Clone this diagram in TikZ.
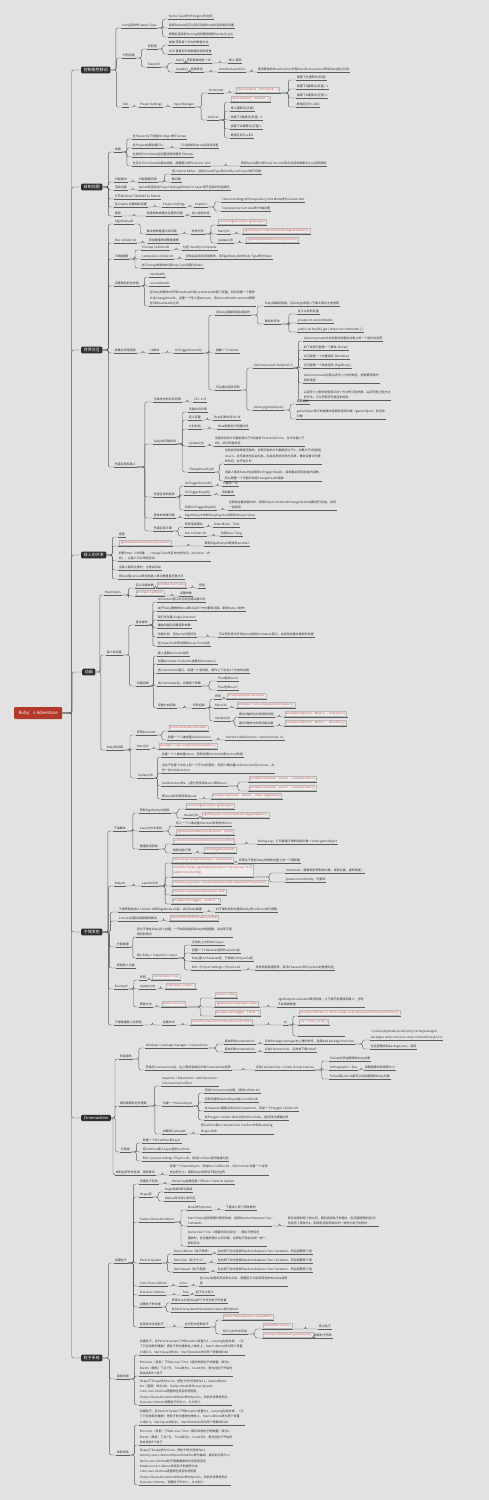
\documentclass[tikz,border=0pt]{standalone}
\usepackage{fontspec}
\setmainfont{Noto Sans CJK SC}
\usetikzlibrary{calc}
\definecolor{bgc}{HTML}{E2E2E2}
\definecolor{lnc}{HTML}{5C5C5C}
\definecolor{txc}{HTML}{333333}
\definecolor{cdred}{HTML}{D2524A}
\definecolor{cdframe}{HTML}{B8B8B8}
\definecolor{cdfill}{HTML}{ECECEC}
\definecolor{brc}{HTML}{2F2F2F}
\definecolor{rtc}{HTML}{B3392B}
\newcommand\Cd[1]{{\setlength{\fboxsep}{0.5pt}\setlength{\fboxrule}{0.3pt}\fcolorbox{cdframe}{cdfill}{\textcolor{cdred}{#1}}}}
\newcommand\Cdd[2]{{\setlength{\fboxsep}{0.5pt}\setlength{\fboxrule}{0.3pt}\fcolorbox{cdframe}{cdfill}{\begin{tabular}{@{}l@{}}\textcolor{cdred}{#1}\\\textcolor{cdred}{#2}\end{tabular}}}}
\newcommand\TopN[4]{\node[tx] (#1) at (#2,#3) {#4};}
\newcommand\CodeN[4]{\node[tx] (#1) at (#2,#3) {\Cd{#4}};}
\newcommand\Con[2]{\draw[cn] let \p1=(#1.south east),\p2=(#2.south west) in (\p1) -- ({(\x1+\x2)/2},\y1) |- (\p2);}
\newcommand\Cons[2]{\foreach \cx in {#2}{\Con{#1}{\cx}}}
\newcommand\BCons[2]{\foreach \cx in {#2}{\draw[cn] let \p1=(#1.east),\p2=(\cx.south west) in (\p1) -- ({(\x1+\x2)/2},\y1) |- (\p2);}}
\tikzset{
 ul/.style={draw=lnc,line width=0.4pt},
 tx/.style={anchor=south west,inner xsep=0.7pt,inner ysep=0.8pt,align=left,text=txc,font=\fontsize{3}{5.4}\selectfont,
   append after command={(\tikzlastnode.south west) edge[ul] (\tikzlastnode.south east)}},
 cn/.style={draw=lnc,line width=0.4pt,rounded corners=2pt},
 br/.style={anchor=west,fill=brc,text=white,rounded corners=1.2pt,inner xsep=2.6pt,inner ysep=1.6pt,font=\fontsize{4}{4.8}\selectfont},
 rt/.style={anchor=west,fill=rtc,text=white,rounded corners=1pt,minimum width=48pt,minimum height=12pt,inner sep=0pt,font=\fontsize{4.4}{5}\selectfont}
}
\begin{document}
\begin{tikzpicture}[x=1pt,y=-1pt]
\useasboundingbox (0,0) rectangle (489,1500);
\fill[bgc] (0,0) rectangle (489,1500);
% root and branches
\node[rt] (root) at (14,713) {Ruby's Adventure};
\node[br] (b1) at (81,70) {控制角色移动};
\node[br] (b2) at (81,187) {绘制地图};
\node[br] (b3) at (81,350) {世界交互};
\node[br] (b4) at (81,555) {敌人的开发};
\node[br] (b5) at (82,672) {动画};
\node[br] (b6) at (81,932) {子弹发射};
\node[br] (b7) at (81,1118) {Cinemachine};
\node[br] (b8) at (81,1358) {粒子系统};
\foreach \cx in {b1,b2,b3,b4,b5,b6,b7,b8}{\draw[cn] let \p1=(root.east),\p2=(\cx.west) in (\p1) -- ({(\x1+\x2)/2},\y1) |- (\p2);}
% ---- b1
\TopN{a1}{121}{28}{Unity选择的Feature Type}
\TopN{a11}{168}{19}{Sprite Type改为Polygon(多边形)}
\TopN{a12}{168}{28}{选择Default后可以显示选择Body的渲染顺序设置}
\TopN{a13}{168}{37}{按键后渲染的Sorting选择图层顺序Sprite(Y)  y(X)}
\TopN{a2}{122}{58}{代码控制}
\TopN{a21}{147}{49}{获取值}
\TopN{a211}{168}{45}{单独 获取每个方向的数值方法}
\TopN{a212}{168}{54}{水平 垂直和平滑数值的控制设置}
\TopN{a22}{147}{67}{RubyCtrl}
\TopN{a221}{175}{63}{Start()}
\TopN{a2211}{186}{63}{获取刚体组件一次}
\TopN{a2212}{228}{63}{放入 缓存}
\TopN{a222}{175}{72}{Update()}
\TopN{a2221}{190}{72}{刚体移动}
\TopN{a2222}{218}{72}{transform.position}
\TopN{a2223}{257}{72}{使用刚体的MovePosition代替transform.position移动Ruby防止抖动}
\TopN{a3}{122}{107}{Edit}
\TopN{a31}{139}{107}{Project Settings}
\TopN{a32}{173}{107}{Input Manager}
\TopN{a321}{208}{93}{Horizontal}
\CodeN{a3211}{235}{93}{Input.GetAxis("Horizontal");}
\TopN{a32111}{296}{80}{按键下左键移动(负值)}
\TopN{a32112}{296}{89}{按键下A键移动(负值) -1}
\TopN{a32113}{296}{98}{按键下D键移动(正值) 1}
\TopN{a32114}{296}{107}{数值区间为-1到1}
\TopN{a322}{207}{120}{Vertical}
\CodeN{a3221}{230}{102}{Input.GetAxis("Vertical");}
\TopN{a3222}{230}{111}{按上键移动(正值)}
\TopN{a3223}{230}{120}{按键下S键移动(负值) -1}
\TopN{a3224}{230}{129}{按键下W键移动(正值) 1}
\TopN{a3225}{230}{138}{数值区间为-1到1}
\BCons{b1}{a1,a2,a3}
\Cons{a1}{a11,a12,a13}\Cons{a2}{a21,a22}\Cons{a21}{a211,a212}\Cons{a22}{a221,a222}
\Con{a221}{a2211}\Con{a2211}{a2212}\Con{a222}{a2221}\Con{a2221}{a2222}\Con{a2222}{a2223}
\Con{a3}{a31}\Con{a31}{a32}\Cons{a32}{a321,a322}\Con{a321}{a3211}
\Cons{a3211}{a32111,a32112,a32113,a32114}\Cons{a322}{a3221,a3222,a3223,a3224,a3225}
% ---- b2
\TopN{c1}{114}{152}{地图}
\TopN{c11}{132}{139}{在Hierarchy下创建2D Object的Tilemap}
\TopN{c12}{132}{148}{在Project右键创建Tile}
\TopN{c121}{180}{148}{Tile拖拽到Sprite后自动设置}
\TopN{c13}{132}{157}{在弹出Tile Palette后设置选取放置的Tilemap}
\TopN{c14}{132}{166}{在瓦片Tile Palette中画出地图，调整图片的Pixels Per Unit}
\TopN{c141}{240}{166}{再把Sprite图片的Pixels Per Unit改为合适的像素大小以适配网格}
\TopN{c2}{114}{182}{切割素材}
\TopN{c21}{138}{182}{切割图集资源}
\TopN{c22}{171}{174}{进入Sprite Editor，选择Slice中Type改Grid By Cell Count进行切割}
\TopN{c23}{171}{182}{裁切图}
\TopN{c3}{114}{190}{渲染设置}
\TopN{c31}{138}{190}{Sprite的渲染在Project Setting中Order in Layer调节渲染的先后顺序}
\TopN{c4}{114}{199}{打开Window下的2D中Tile Palette}
\TopN{c5}{114}{207}{在Graphic设置相机设置}
\TopN{c51}{162}{207}{Project Settings}
\TopN{c52}{194}{207}{Graphics}
\TopN{c521}{221}{202}{Camera Settings中Transparency Sort Mode改为Custom Axis}
\TopN{c522}{221}{211}{Transparency Sort Axis改为Y轴设置}
\TopN{c6}{114}{216}{图层}
\TopN{c61}{146}{216}{前景物体放置在后面的问题}
\TopN{c62}{191}{216}{加入遮挡关系}
\BCons{b2}{c1,c2,c3,c4,c5,c6}
\Cons{c1}{c11,c12,c13,c14}\Con{c12}{c121}\Con{c14}{c141}
\Con{c2}{c21}\Cons{c21}{c22,c23}\Con{c3}{c31}\Con{c5}{c51}\Con{c51}{c52}\Cons{c52}{c521,c522}
\Con{c6}{c61}\Con{c61}{c62}
% ---- b3
\TopN{d1}{114}{224}{Rigidbody 2D}
\TopN{d11}{146}{234}{解决物体碰撞抖动问题}
\TopN{d111}{191}{234}{修改代码}
\CodeN{d1111}{217}{225}{private Rigidbody2D rigidbody2d;}
\TopN{d1112}{217}{234}{Start()中}
\CodeN{d1112a}{242}{234}{rigidbody2d = GetComponent<Rigidbody2D>();}
\TopN{d1113}{217}{243}{Update()中}
\CodeN{d1113a}{245}{243}{rigidbody2d.MovePosition(position);}
\TopN{d2}{114}{243}{Box Collider 2D}
\TopN{d21}{148}{243}{添加碰撞体调整碰撞框}
\TopN{d3}{114}{259}{TM碰撞器}
\TopN{d31}{141}{250}{Tilemap Collider 2D}
\TopN{d311}{182}{250}{勾选 Used By Composite}
\TopN{d32}{141}{259}{Composite Collider 2D}
\TopN{d321}{185}{259}{添加后会自动添加刚体，将Rigidbody 2D的Body Type改为Static}
\TopN{d33}{141}{268}{在Tilemap的刚体中将Body Type设置为Static}
\TopN{d4}{114}{286}{设置角色的生命值}
\TopN{d41}{149}{277}{maxHealth}
\TopN{d42}{149}{286}{currentHealth}
\TopN{d43}{149}{306}{在Ruby的脚本中声明maxHealth和currentHealth两个变量，然后创建一个更改\\方法ChangeHealth，设置一个传入值amount，用currentHealth+amount限制\\在0到maxHealth之间}
\TopN{d5}{114}{353}{收集生命值道具}
\TopN{d51}{149}{353}{C\#脚本}
\TopN{d52}{174}{353}{OnTriggerEnter2D()}
\TopN{d531}{215}{315}{当Ruby接触到回血道具时}
\TopN{d53}{215}{353}{接触一个Collider}
\TopN{d54}{215}{390}{可以通过组件获取}
\TopN{d5311}{264}{306}{Ruby接触到道具，且Ruby生命值小于最大值时才能拾取}
\TopN{d5312}{264}{324}{属性的写法}
\TopN{d53121}{297}{314}{定义公有的变量}
\TopN{d53122}{297}{323}{private int currentHealth;}
\TopN{d53123}{297}{332}{public int health \{ get \{ return currentHealth; \} \}}
\TopN{d541}{253}{368}{GetComponent<RubyCtrl>()}
\TopN{d5411}{303}{341}{GetComponent方法会查找挂载在对象上的一个组件并返回}
\TopN{d5412}{303}{350}{如下返回可能是一个脚本 (Script)}
\TopN{d5413}{303}{359}{也可能是一个内置组件 (Renderer)}
\TopN{d5414}{303}{368}{也可能是一个刚体组件 (Rigidbody)}
\TopN{d5415}{303}{383}{GetComponent后面尖括号(<>)中的类型，就是要获取的\\组件类型}
\TopN{d5416}{303}{400}{尖括号(<>)里的类型表示这个方法的泛型参数，尖括号是泛型方法\\的写法，可以获取任何类型的组件}
\TopN{d542}{253}{410}{Destroy(gameObject)}
\TopN{d5421}{296}{404}{销毁道具}
\TopN{d5422}{296}{419}{gameObject表示的是脚本挂载的游戏对象（gameObject）的当前\\对象}
\TopN{d6}{114}{467}{伤害区域和敌人}
\TopN{d61}{153}{402}{无敌状态的时间间隔}
\TopN{d611}{193}{402}{CD = 2.0f}
\TopN{d62}{153}{444}{Ruby的无敌时间}
\TopN{d621}{188}{412}{无敌时间计算}
\TopN{d622}{188}{420}{定义变量}
\TopN{d6221}{213}{420}{float无敌时间为2.0f}
\TopN{d623}{188}{429}{计时时间}
\TopN{d6231}{217}{429}{float类型的计时器时间}
\TopN{d624}{188}{446}{Update()中}
\TopN{d6241}{214}{446}{无敌状态的计时器如果大于0则减去Time.deltaTime，当计时器小于\\0时，关闭无敌状态}
\TopN{d625}{188}{472}{ChangeHealth()中}
\TopN{d6251}{224}{464}{当前状态如果是无敌的，判断无敌的计时器是否大于0，如果大于0则直接\\return，出无敌状态后会扣血，扣血后把状态改为无敌，重新设置计时器\\的时间，并开始计时}
\TopN{d6252}{224}{481}{当敌人碰到Ruby时会调用OnTriggerStay2D，每帧都会调用扣血的函数，\\所以需要一个无敌时间给ChangeHealth函数}
\TopN{d63}{153}{497}{伤害区域的制作}
\TopN{d631}{184}{486}{OnTriggerEnter2D()}
\TopN{d6311}{222}{486}{只触发一次}
\TopN{d632}{184}{495}{OnTriggerStay2D()}
\TopN{d6321}{221}{495}{持续触发}
\TopN{d633}{184}{510}{持续OnTriggerStay2D()}
\TopN{d6331}{228}{510}{当刚体在触发器中时，调用RubyController中ChangeHealth函数进行扣血，持续\\一直调用}
\TopN{d64}{153}{518}{刚体的休眠问题}
\TopN{d641}{184}{518}{Rigidbody2D中的Sleeping Mode修改为Never Sleep}
\TopN{d65}{153}{531}{伤害区域平铺}
\TopN{d651}{184}{527}{修改渲染模式}
\TopN{d6511}{213}{527}{Draw Mode：Tiled}
\TopN{d652}{184}{536}{Box Collider 2D}
\TopN{d6521}{220}{536}{勾选Auto Tiling}
\BCons{b3}{d1,d2,d3,d4,d5,d6}
\Con{d1}{d11}\Con{d11}{d111}\Cons{d111}{d1111,d1112,d1113}\Con{d1112}{d1112a}\Con{d1113}{d1113a}
\Con{d2}{d21}\Cons{d3}{d31,d32,d33}\Con{d31}{d311}\Con{d32}{d321}
\Cons{d4}{d41,d42,d43}
\Con{d5}{d51}\Con{d51}{d52}\Cons{d52}{d531,d53,d54}
\Cons{d531}{d5311,d5312}\Cons{d5312}{d53121,d53122,d53123}
\Cons{d54}{d541,d542}\Cons{d541}{d5411,d5412,d5413,d5414,d5415,d5416}\Cons{d542}{d5421,d5422}
\Cons{d6}{d61,d62,d63,d64,d65}\Con{d61}{d611}
\Cons{d62}{d621,d622,d623,d624,d625}\Con{d622}{d6221}\Con{d623}{d6231}\Con{d624}{d6241}\Cons{d625}{d6251,d6252}
\Cons{d63}{d631,d632,d633}\Con{d631}{d6311}\Con{d632}{d6321}\Con{d633}{d6331}
\Con{d64}{d641}\Cons{d65}{d651,d652}\Con{d651}{d6511}\Con{d652}{d6521}
% ---- b4
\TopN{e1}{118}{537}{速度}
\CodeN{e2}{118}{546}{rigidbody2d.MovePosition(position);}
\TopN{e21}{204}{546}{刷新Rigidbody2D刚体的position}
\TopN{e3}{118}{561}{判断timer（计时器），changeTime改变方向的时间，direction（方\\向），让敌人可以来回走动}
\TopN{e4}{118}{570}{当敌人碰到主角时，主角会扣血}
\TopN{e5}{118}{579}{用bool值vertical来控制敌人移动是垂直还是水平}
\BCons{b4}{e1,e2,e3,e4,e5}\Con{e2}{e21}
% ---- b5
\TopN{f1}{104}{595}{Parameters}
\TopN{f11}{135}{588}{定义动画参数}
\CodeN{f111}{156}{588}{animator.SetFloat()}
\TopN{f112}{198}{588}{传值}
\CodeN{f12}{135}{596}{animator.SetBool()}
\TopN{f121}{179}{596}{设置参数}
\TopN{f2}{106}{655}{敌人的动画}
\TopN{f21}{135}{625}{基本操作}
\TopN{f211}{157}{602}{Animation窗口中点击创建动画片段}
\TopN{f212}{157}{611}{由于Ruby要做的Move和Idle四个方向都有动画，都在Ruby上制作}
\TopN{f213}{157}{620}{我们先创建 Single Direction}
\TopN{f214}{157}{628}{播放动画后调整每秒帧数}
\TopN{f215}{157}{637}{动画片段：用Sprite切割好后}
\TopN{f2151}{218}{637}{可以同时选中多张Sprite拖到Animation窗口，会自动创建关键帧的动画}
\TopN{f216}{157}{646}{在Inspector中把动画的Loop Time勾选}
\TopN{f22}{136}{686}{动画控制}
\TopN{f221}{157}{656}{敌人挂载Animator组件}
\TopN{f222}{157}{664}{创建Animator Controller挂载到Animator上}
\TopN{f223}{157}{673}{进入Animation窗口，创建一个混合树，制作上下左右4个方向的动画}
\TopN{f224}{157}{686}{进入Animator后，设置两个参数}
\TopN{f2241}{217}{681}{Float型Move X}
\TopN{f2242}{217}{690}{Float型Move Y}
\TopN{f225}{157}{708}{设置方向控制}
\TopN{f2251}{192}{708}{代码控制}
\TopN{f22511}{214}{699}{声明}
\CodeN{f22512}{226}{699}{private Animator animator;}
\TopN{f22513}{214}{708}{Start()中}
\CodeN{f22514}{236}{708}{animator = GetComponent<Animator>();}
\TopN{f22515}{214}{721}{Update()中}
\TopN{f225151}{238}{717}{通过X轴的方向来控制动画}
\CodeN{f225152}{284}{717}{animator.SetFloat("Move X", direction.x);}
\TopN{f225153}{238}{726}{通过Y轴的方向来控制动画}
\CodeN{f225154}{284}{726}{animator.SetFloat("Move Y", direction.y);}
\TopN{f3}{106}{750}{Ruby的动画}
\TopN{f31}{136}{735}{声明Animator}
\CodeN{f311}{168}{731}{private Animator animator;}
\TopN{f312}{167}{740}{创建一个二维向量lookDirection}
\TopN{f3121}{225}{740}{Vector2 lookDirection = new Vector2(1, 0);}
\TopN{f32}{136}{749}{Start()中}
\CodeN{f321}{158}{749}{animator = GetComponent<Animator>();}
\TopN{f33}{137}{778}{Update()中}
\TopN{f331}{161}{757}{创建一个二维向量move，用来存储Horizontal和Vertical的值}
\TopN{f332}{161}{773}{当位于在哪个方向上有一个不为0的值时，就把二维向量lookDirection存入move，并\\归一化lookDirection}
\TopN{f333}{161}{786}{lookDirection的x、y值分别传给Move X和Move Y}
\CodeN{f3331}{248}{782}{animator.SetFloat("Look X", lookDirection.x);}
\CodeN{f3332}{248}{791}{animator.SetFloat("Look Y", lookDirection.y);}
\TopN{f334}{161}{799}{把move的长度传给Speed}
\CodeN{f3341}{211}{799}{animator.SetFloat("Speed", move.magnitude);}
\BCons{b5}{f1,f2,f3}
\Cons{f1}{f11,f12}\Con{f11}{f111}\Con{f111}{f112}\Con{f12}{f121}
\Cons{f2}{f21,f22}\Cons{f21}{f211,f212,f213,f214,f215,f216}\Con{f215}{f2151}
\Cons{f22}{f221,f222,f223,f224,f225}\Cons{f224}{f2241,f2242}\Con{f225}{f2251}
\Cons{f2251}{f22511,f22513,f22515}\Con{f22511}{f22512}\Con{f22513}{f22514}
\Cons{f22515}{f225151,f225153}\Con{f225151}{f225152}\Con{f225153}{f225154}
\Cons{f3}{f31,f32,f33}\Cons{f31}{f311,f312}\Con{f312}{f3121}\Con{f32}{f321}
\Cons{f33}{f331,f332,f333,f334}\Cons{f333}{f3331,f3332}\Con{f334}{f3341}
% ---- b6
\TopN{g1}{113}{831}{子弹脚本}
\TopN{g11}{139}{813}{获取Rigidbody2D组件}
\CodeN{g111}{185}{809}{private Rigidbody2D rigidbody2d;}
\TopN{g112}{183}{818}{Awake()中}
\CodeN{g1121}{201}{818}{rigidbody2d = GetComponent<Rigidbody2D>();}
\TopN{g12}{139}{831}{Launch方法发射}
\TopN{g121}{175}{826}{传入一个二维向量direction和发射的force}
\CodeN{g122}{175}{835}{rigidbody2d.AddForce(direction * force);}
\TopN{g13}{139}{849}{碰撞检测销毁}
\CodeN{g131}{172}{844}{void OnCollisionEnter2D(Collision2D other)}
\TopN{g1311}{257}{844}{Debug.Log：打印碰撞子弹的游戏对象  + other.gameObject}
\TopN{g132}{172}{853}{销毁当前子弹}
\CodeN{g1321}{203}{853}{Destroy(gameObject);}
\TopN{g2}{114}{886}{Ruby中}
\TopN{g21}{141}{886}{Launch方法}
\CodeN{g22}{171}{863}{GameObject projectileObject = Instantiate(}
\TopN{g221}{238}{863}{实例化子弹在Ruby的刚体位置上加一个偏移量}
\TopN{g23}{171}{877}{\Cdd{projectilePrefab, rigidbody2d.position + Vector2.up * 0.5f,}{Quaternion.identity);}}
\TopN{g231}{285}{873}{Instantiate（需复制的预制体对象，复制位置，旋转角度）}
\TopN{g232}{285}{882}{Quaternion.identity：无旋转}
\CodeN{g24}{171}{886}{Projectile projectile = projectileObject.GetComponent<Projectile>();}
\CodeN{g25}{171}{895}{projectile.Launch(lookDirection, 300);}
\CodeN{g26}{171}{904}{animator.SetTrigger("Launch");}
\TopN{g3}{118}{912}{子弹预制体加入Collider 2D和Rigidbody 2D后，会与Ruby碰撞}
\TopN{g31}{215}{912}{对子弹的发射位置及Ruby的Collision进行调整}
\TopN{g4}{118}{921}{Console后面出现报错的解决}
\CodeN{g41}{169}{921}{Start()中的代码改为Awake()中获取}
\TopN{g5}{116}{947}{分层碰撞}
\TopN{g51}{136}{937}{因为子弹在Ruby身上创建，一开始就会碰到Ruby的碰撞器，会出现不能\\发射的情况}
\TopN{g52}{136}{958}{进入Ruby > Inspector > Layer}
\TopN{g521}{191}{945}{点击右上方的Add Layer}
\TopN{g522}{191}{953}{创建一个Character层和Projectile层}
\TopN{g523}{191}{961}{Ruby放入Character层，子弹放入Projectile层}
\TopN{g524}{191}{970}{Edit > Project Settings > Physics 2D}
\TopN{g5241}{255}{970}{修改层级碰撞矩阵，取消Character和Projectile的碰撞勾选}
\TopN{g6}{116}{968}{修复敌人功能}
\TopN{g7}{114}{989}{Enemy中}
\TopN{g71}{139}{980}{声明}
\CodeN{g711}{151}{980}{bool broken = true;}
\TopN{g72}{139}{989}{Update()中}
\CodeN{g721}{165}{989}{if(!broken) \{ return; \}}
\TopN{g73}{139}{1007}{修复方法}
\CodeN{g731}{161}{1007}{public void Fix()}
\CodeN{g7311}{214}{998}{broken = false;}
\CodeN{g7312}{214}{1007}{rigidbody2d.simulated = false;}
\TopN{g73121}{277}{1007}{rigidbody2d.simulated禁用刚体，让子弹不能再碰到敌人，也就\\不会再被碰撞}
\CodeN{g7313}{214}{1016}{animator.SetTrigger("Fixed");}
\TopN{g8}{114}{1025}{子弹碰撞敌人后修复}
\TopN{g81}{162}{1025}{在脚本中}
\CodeN{g82}{190}{1025}{void OnCollisionEnter2D(Collision2D other)}
\TopN{g83}{283}{1025}{内}
\CodeN{g831}{298}{1016}{EnemyController e = other.collider.GetComponent<EnemyController>();}
\CodeN{g832}{298}{1025}{if(e != null) \{ e.Fix(); \}}
\TopN{g833}{298}{1036}{\hspace*{45pt}}
\BCons{b6}{g1,g2,g3,g4,g5,g6,g7,g8}
\Cons{g1}{g11,g12,g13}\Cons{g11}{g111,g112}\Con{g112}{g1121}\Cons{g12}{g121,g122}
\Cons{g13}{g131,g132}\Con{g131}{g1311}\Con{g132}{g1321}
\Con{g2}{g21}\Cons{g21}{g22,g23,g24,g25,g26}\Con{g22}{g221}\Cons{g23}{g231,g232}
\Con{g3}{g31}\Con{g4}{g41}
\Cons{g5}{g51,g52}\Cons{g52}{g521,g522,g523,g524}\Con{g524}{g5241}
\Cons{g7}{g71,g72,g73}\Con{g71}{g711}\Con{g72}{g721}\Con{g73}{g731}
\Cons{g731}{g7311,g7312,g7313}\Con{g7312}{g73121}
\Con{g8}{g81}\Con{g81}{g82}\Con{g82}{g83}\Cons{g83}{g831,g832,g833}
% ---- b7
\TopN{h1}{119}{1059}{安装插件}
\TopN{h11}{145}{1048}{Windows > package manager > cinemachine}
\TopN{h111}{224}{1044}{版本新的cinemachine}
\TopN{h1111}{264}{1044}{点击Package manager左上角的加号，选择Add package from disk}
\TopN{h11111}{370}{1040}{C:\textbackslash Users\textbackslash AppData\textbackslash Local\textbackslash Unity\textbackslash cache\textbackslash packages\textbackslash \\packages.unity.com\textbackslash com.unity.cinemachine@2.3.4}
\TopN{h11112}{370}{1049}{在这里面找到package.json，选择}
\TopN{h112}{224}{1052}{版本旧的cinemachine}
\TopN{h1121}{264}{1052}{点击Cinemachine，点击右下角install}
\TopN{h12}{145}{1070}{安装完Cinemachine后，在上面的菜单栏中有Cinemachine选项}
\TopN{h121}{255}{1070}{点击Cinemachine > Create Virtual Camera}
\TopN{h1211}{329}{1061}{Follow中添加跟随的Ruby对象}
\TopN{h1212}{329}{1070}{Orthographic > Size}
\TopN{h12121}{364}{1070}{调整摄像机的视野大小}
\TopN{h1213}{329}{1079}{Follow和Look At都可以添加跟随的Ruby对象}
\TopN{h2}{119}{1106}{相机跟随的边界限制}
\TopN{h21}{161}{1086}{Inspector > Extensions > Add Extension >\\CinemachineConfiner}
\TopN{h22}{162}{1106}{创建一个GameObject}
\TopN{h221}{204}{1093}{添加Cinemachine边框，选择Collider 2D}
\TopN{h222}{204}{1102}{将新创建的GameObject拖入Confiner中}
\TopN{h223}{204}{1111}{在Inspector面板点击Add Component，添加一个Polygon Collider 2D}
\TopN{h224}{204}{1120}{在Polygon Collider 2D中点击Edit Collider，拖动顶点编辑边界}
\TopN{h23}{162}{1134}{加载到Camera中}
\TopN{h231}{200}{1134}{把Confiner放入Cinemachine Confiner中的Bounding\\Shape 2D中}
\TopN{h3}{120}{1152}{分层级}
\TopN{h31}{142}{1143}{新建一个叫Confiner的Layer}
\TopN{h32}{142}{1152}{将Confiner放入Layer层的Confiner}
\TopN{h33}{142}{1161}{Edit > project setting > Physics 2D，取消Confiner层的碰撞勾选}
\TopN{h4}{115}{1175}{相机边界外的区域：限制移动}
\TopN{h41}{169}{1175}{新建一个GameObject，添加Box Collider 2D，Edit Collider设置一个合适\\的边界大小，限制Ruby的移动不超过边界}
\BCons{b7}{h1,h2,h3,h4}
\Cons{h1}{h11,h12}\Cons{h11}{h111,h112}\Con{h111}{h1111}\Cons{h1111}{h11111,h11112}\Con{h112}{h1121}
\Con{h12}{h121}\Cons{h121}{h1211,h1212,h1213}\Con{h1212}{h12121}
\Cons{h2}{h21,h22,h23}\Cons{h22}{h221,h222,h223,h224}\Con{h23}{h231}
\Cons{h3}{h31,h32,h33}\Con{h4}{h41}
% ---- b8
\TopN{k1}{114}{1263}{创建粒子}
\TopN{k11}{139}{1184}{创建粒子系统}
\TopN{k111}{171}{1184}{Hierarchy右键创建 > Effects > Particle System}
\TopN{k12}{139}{1197}{Shape项}
\TopN{k121}{164}{1192}{Angle改成0即为直线}
\TopN{k122}{164}{1201}{Radius改为较小的半径}
\TopN{k13}{139}{1222}{Texture Sheet Animation}
\TopN{k131}{187}{1210}{Mode改为Sprites}
\TopN{k1311}{225}{1210}{下面加入两个特效素材}
\TopN{k132}{187}{1226}{Start Frame指的是图片精灵的帧，选择Random Between Two\\Constants}
\TopN{k1321}{287}{1226}{即在前面的两个帧之间，随机选择粒子的图片（在范围里随机显示）\\然后把上限改为2，即随机选取两帧中的一帧作为粒子的图片}
\TopN{k133}{187}{1246}{Sprite Over Time（随着时间在变化）：即粒子是否在\\播放时，在设置的图片之间切换，这样粒子就会出现一帧一\\帧的变化}
\TopN{k14}{139}{1263}{Particle System}
\TopN{k141}{173}{1254}{Start Lifetime（粒子寿命）}
\TopN{k1411}{217}{1254}{在右侧下拉中选择Random Between Two Constants，然后调整两个值}
\TopN{k142}{173}{1263}{Start Size（粒子大小）}
\TopN{k1421}{217}{1263}{在右侧下拉中选择Random Between Two Constants，然后调整两个值}
\TopN{k143}{173}{1272}{Start Speed（粒子速度）}
\TopN{k1431}{217}{1272}{在右侧下拉中选择Random Between Two Constants，然后调整两个值}
\TopN{k15}{139}{1286}{Color Over Lifetime}
\TopN{k151}{179}{1286}{color}
\TopN{k152}{199}{1286}{在Color右侧的渐变条中点击，调整粒子从出现到消失的alpha透明\\度}
\TopN{k16}{139}{1295}{Size Over Lifetime}
\TopN{k161}{182}{1295}{Size}
\TopN{k162}{195}{1295}{粒子从大到小}
\TopN{k17}{139}{1307}{设置粒子的位置}
\TopN{k171}{171}{1303}{修改Size为在Ruby的下方作为粒子的位置}
\TopN{k172}{171}{1312}{在Particle System中Simulation Space改为World}
\TopN{k18}{139}{1327}{在游戏中生成粒子}
\TopN{k181}{184}{1327}{在代码中控制粒子}
\CodeN{k1811}{222}{1320}{public ParticleSystem smokeEffect;}
\TopN{k1812}{222}{1334}{在Fix()方法中添加}
\CodeN{k18121}{262}{1329}{smokeEffect.Stop();}
\TopN{k181211}{318}{1329}{停止粒子}
\CodeN{k18122}{262}{1338}{Destroy(smokeEffect.gameObject);}
\TopN{k181221}{313}{1338}{销毁粒子特效}
\TopN{k2}{116}{1379}{道具特效}
\TopN{k21}{139}{1355}{创建粒子，在Particle System下的Duration设置为1，Looping勾选去掉，（为\\了只在拾取时播放）把粒子的位置放在人物身上，Start Lifetime改为两个常量\\0.5和1.5，Start Speed改为0，Start Rotation改为两个常数0和360}
\TopN{k22}{139}{1376}{Emission（发射）下Rate over Time（每秒发射粒子的数量）改为0，\\Bursts（爆发）下点+号，Time改为0，Count为5，意为在粒子开始时\\就会发射5个粒子}
\TopN{k23}{139}{1405}{Shape下Shape改为Circle，把粒子的半径改为0.1，Radius改为0，\\Arc（弧度）改为360，Radius Mode改为Loop Spread，\\Color over Lifetime调整颜色渐变的透明度，\\Texture Sheet Animation中Mode改为Sprites，添加多张精灵图片，\\Size over Lifetime调整粒子的大小，从大到小}
\TopN{k3}{116}{1455}{拾取特效}
\TopN{k31}{139}{1425}{创建粒子，在Particle System下的Duration设置为1，Looping勾选去掉，（为\\了只在拾取时播放）把粒子的位置放在物体上，Start Lifetime改为两个常量\\0.5和1.5，Start Speed改为0，Start Rotation改为两个常数0和360}
\TopN{k32}{139}{1445}{Emission（发射）下Rate over Time（每秒发射粒子的数量）改为0，\\Bursts（爆发）下点+号，Time改为0，Count为5，意为在粒子开始时\\就会发射5个粒子}
\TopN{k33}{139}{1485}{Shape下Shape改为Circle，把粒子的半径改为0.1\\Velocity over Lifetime中Speed Modifier改为曲线，最后的点改为-1\\Sprite over Lifetime粒子随着播放的时间逐渐变化\\Rotation over Lifetime改变粒子的旋转方向\\Color over Lifetime调整颜色渐变的透明度\\Texture Sheet Animation中Mode改为Sprites，添加多张精灵图片\\Size over Lifetime，调整粒子的大小，从大到小}
\BCons{b8}{k1,k2,k3}
\Cons{k1}{k11,k12,k13,k14,k15,k16,k17,k18}\Con{k11}{k111}\Cons{k12}{k121,k122}
\Cons{k13}{k131,k132,k133}\Con{k131}{k1311}\Con{k132}{k1321}
\Cons{k14}{k141,k142,k143}\Con{k141}{k1411}\Con{k142}{k1421}\Con{k143}{k1431}
\Con{k15}{k151}\Con{k151}{k152}\Con{k16}{k161}\Con{k161}{k162}\Cons{k17}{k171,k172}
\Con{k18}{k181}\Cons{k181}{k1811,k1812}\Cons{k1812}{k18121,k18122}\Con{k18121}{k181211}\Con{k18122}{k181221}
\Cons{k2}{k21,k22,k23}\Cons{k3}{k31,k32,k33}
\end{tikzpicture}
\end{document}
